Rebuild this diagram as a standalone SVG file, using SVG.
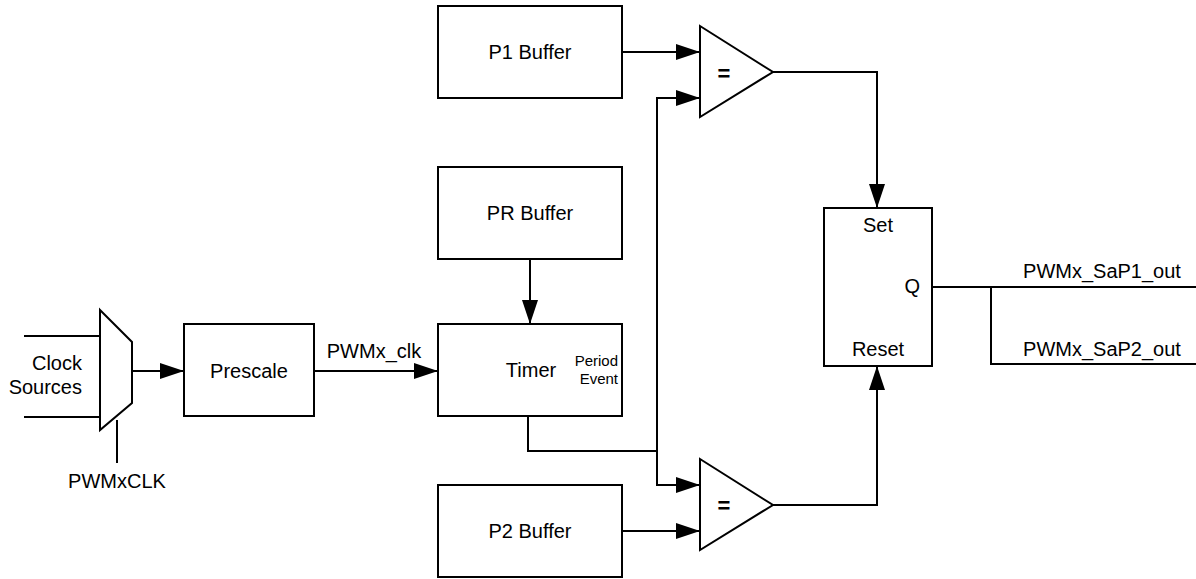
<svg xmlns="http://www.w3.org/2000/svg" width="1196" height="579" viewBox="0 0 1196 579">
<defs>
<style>
.b{fill:#fff;stroke:#000;stroke-width:2}
.w{fill:none;stroke:#000;stroke-width:2}
.t{font-family:"Liberation Sans",Arial,sans-serif;font-size:20px;fill:#000}
.s{font-family:"Liberation Sans",Arial,sans-serif;font-size:15px;fill:#000}
.eq{font-family:"Liberation Sans",Arial,sans-serif;font-size:22px;font-weight:bold;fill:#000}
</style>
<marker id="ah" markerWidth="24" markerHeight="16" refX="24" refY="8" orient="auto" markerUnits="userSpaceOnUse">
<path d="M0,0 L24,8 L0,16 Z" fill="#000"/>
</marker>
</defs>
<rect width="1196" height="579" fill="#fff"/>
<g id="connectors">
<line class="w" x1="24" y1="336" x2="100" y2="336"/>
<line class="w" x1="24" y1="417" x2="100" y2="417"/>
<line class="w" x1="117" y1="420" x2="117" y2="463"/>
<line class="w" x1="132" y1="371" x2="184" y2="371" marker-end="url(#ah)"/>
<line class="w" x1="314" y1="371" x2="438" y2="371" marker-end="url(#ah)"/>
<line class="w" x1="530" y1="259" x2="530" y2="324" marker-end="url(#ah)"/>
<line class="w" x1="622" y1="52" x2="700" y2="52" marker-end="url(#ah)"/>
<polyline class="w" points="657,485 657,98 700,98" marker-end="url(#ah)"/>
<polyline class="w" points="528,416 528,451 657,451"/>
<polyline class="w" points="657,451 657,485 700,485" marker-end="url(#ah)"/>
<line class="w" x1="622" y1="531" x2="700" y2="531" marker-end="url(#ah)"/>
<polyline class="w" points="773,72 877,72 877,208" marker-end="url(#ah)"/>
<polyline class="w" points="773,505 877,505 877,366" marker-end="url(#ah)"/>
<line class="w" x1="932" y1="287" x2="1196" y2="287"/>
<polyline class="w" points="991,287 991,364 1196,364"/>
</g>
<g id="mux">
<polygon class="b" points="100,310 132,342 132,403 100,430"/>
</g>
<g id="clock-sources">
<text class="t" x="82" y="370" text-anchor="end">Clock</text>
<text class="t" x="82" y="394" text-anchor="end">Sources</text>
</g>
<g id="pwmxclk-label">
<text class="t" x="117" y="488" text-anchor="middle">PWMxCLK</text>
</g>
<g id="prescale">
<rect class="b" x="184" y="324" width="130" height="92"/>
<text class="t" x="249" y="378" text-anchor="middle">Prescale</text>
</g>
<g id="pwmx-clk-label">
<text class="t" x="374" y="358" text-anchor="middle">PWMx_clk</text>
</g>
<g id="p1-buffer">
<rect class="b" x="438" y="6" width="184" height="92"/>
<text class="t" x="530" y="59" text-anchor="middle">P1 Buffer</text>
</g>
<g id="pr-buffer">
<rect class="b" x="438" y="167" width="184" height="92"/>
<text class="t" x="530" y="220" text-anchor="middle">PR Buffer</text>
</g>
<g id="timer">
<rect class="b" x="438" y="324" width="184" height="92"/>
<text class="t" x="531" y="377" text-anchor="middle">Timer</text>
<text class="s" x="618" y="366" text-anchor="end">Period</text>
<text class="s" x="618" y="384" text-anchor="end">Event</text>
</g>
<g id="p2-buffer">
<rect class="b" x="438" y="485" width="184" height="92"/>
<text class="t" x="530" y="538" text-anchor="middle">P2 Buffer</text>
</g>
<g id="comparator1">
<polygon class="b" points="700,26 773,72 700,117"/>
<text class="eq" x="724" y="81" text-anchor="middle">=</text>
</g>
<g id="comparator2">
<polygon class="b" points="700,459 773,505 700,550"/>
<text class="eq" x="724" y="513" text-anchor="middle">=</text>
</g>
<g id="latch">
<rect class="b" x="824" y="208" width="108" height="158"/>
<text class="t" x="878" y="232" text-anchor="middle">Set</text>
<text class="t" x="920" y="293" text-anchor="end">Q</text>
<text class="t" x="878" y="356" text-anchor="middle">Reset</text>
</g>
<g id="outputs">
<text class="t" x="1102" y="278" text-anchor="middle">PWMx_SaP1_out</text>
<text class="t" x="1102" y="356" text-anchor="middle">PWMx_SaP2_out</text>
</g>
</svg>
